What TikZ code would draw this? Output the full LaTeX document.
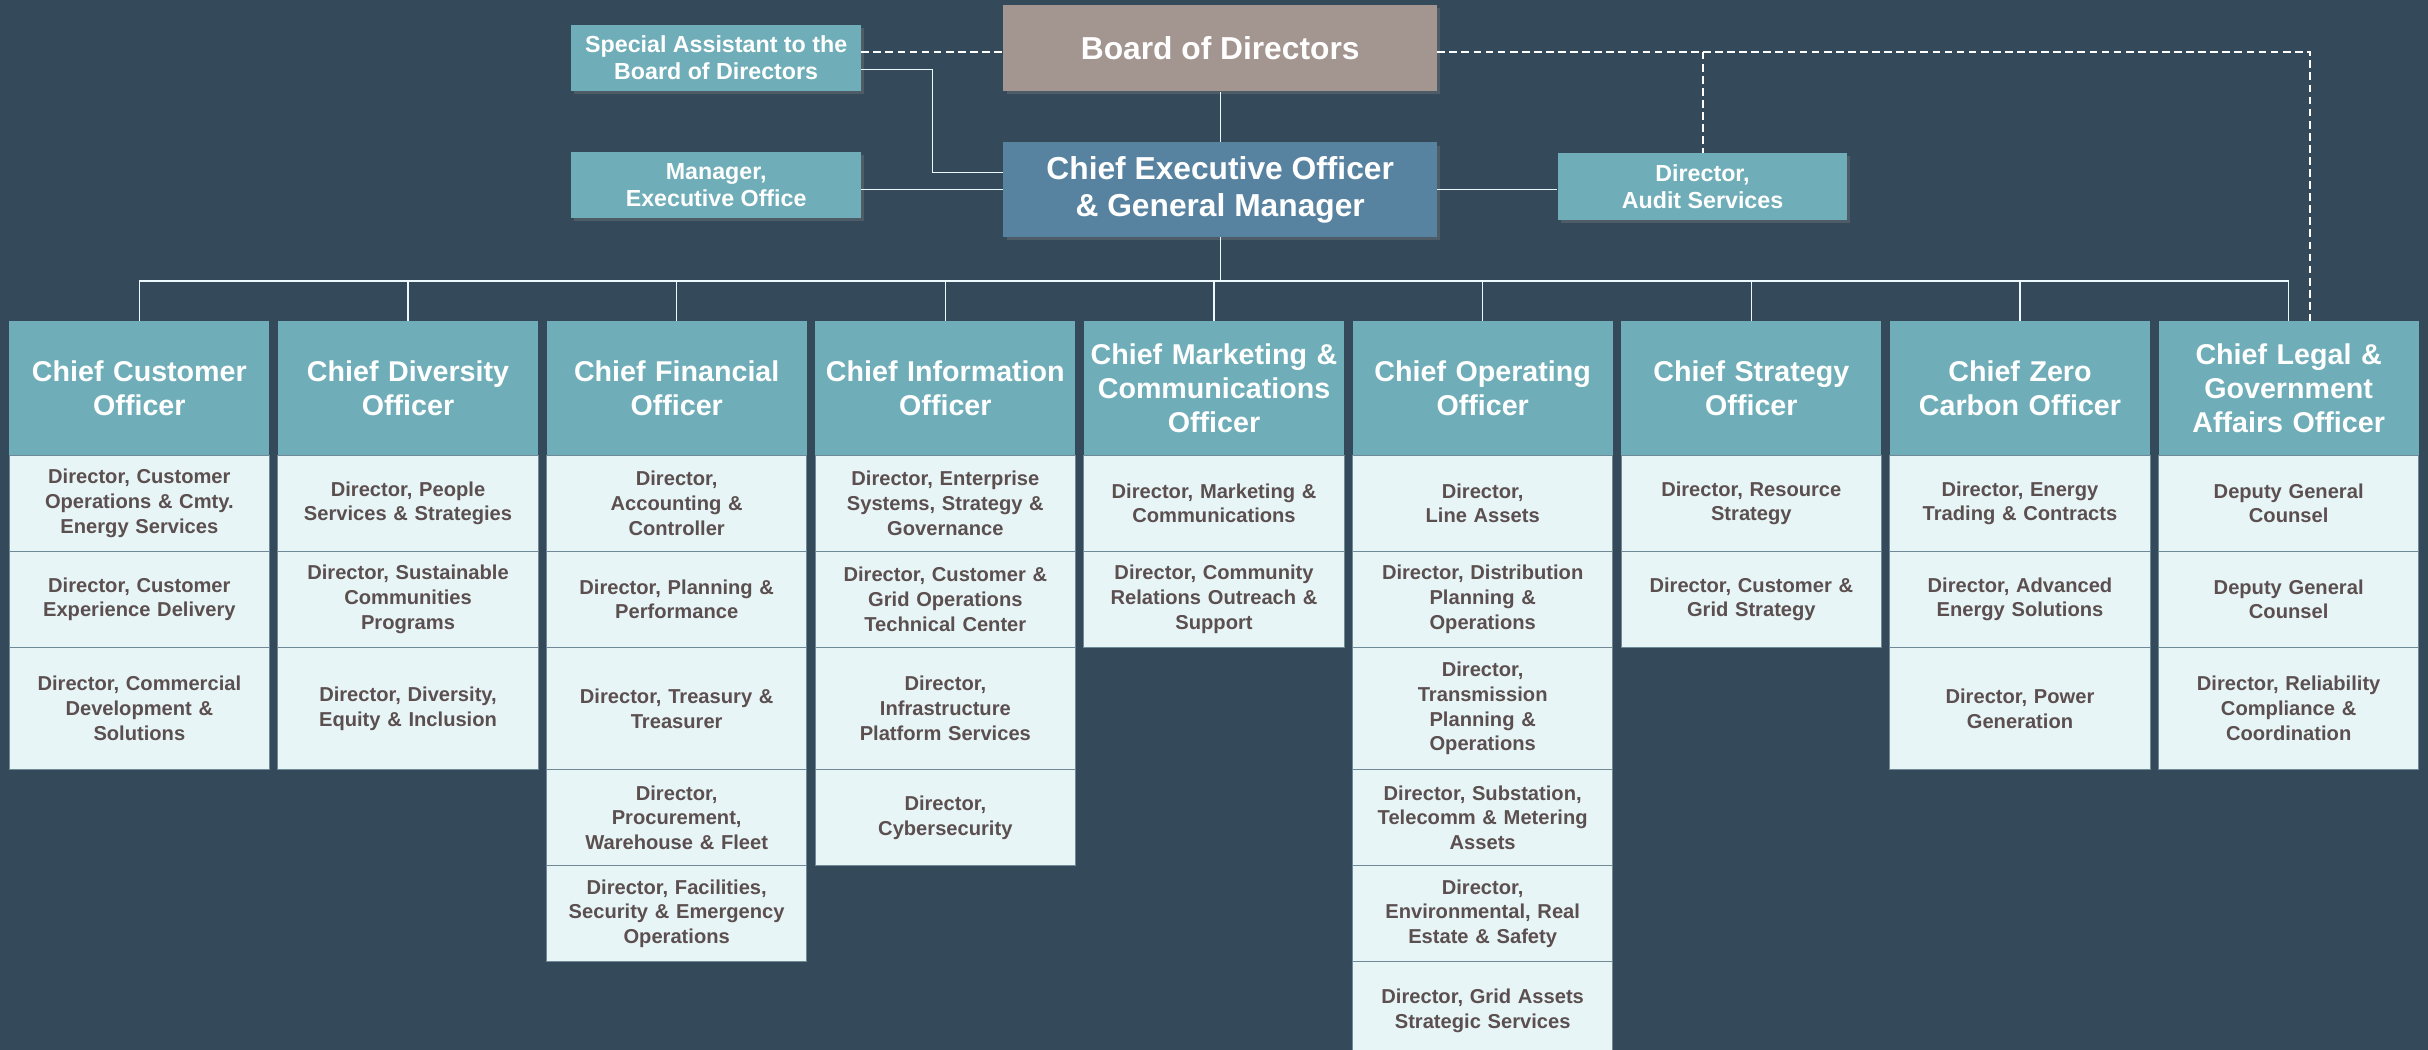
\documentclass[tikz,border=0pt]{standalone}
\usepackage{fontspec}
\setmainfont{Liberation Sans}
\usepackage{tikz}
\usetikzlibrary{positioning, shadows}

\definecolor{bgslate}{HTML}{344A5B}
\definecolor{boardgrey}{HTML}{A39590}
\definecolor{ceoblue}{HTML}{5782A0}
\definecolor{officeteal}{HTML}{6FAEB8}
\definecolor{dirfill}{HTML}{E8F5F7}
\definecolor{dirtext}{HTML}{5B4F4F}
\definecolor{dirline}{HTML}{6F8A96}

\tikzset{
  office/.style={rectangle, inner sep=0pt, align=center, text=white, fill=officeteal,
    font=\bfseries\fontsize{15}{17.5}\selectfont, minimum width=187pt, minimum height=43pt,
    drop shadow={shadow xshift=2pt, shadow yshift=-2pt, opacity=0.35}},
  exec/.style={office, font=\bfseries\fontsize{20.5}{24}\selectfont, minimum width=280pt},
  chief/.style={rectangle, inner sep=0pt, outer sep=0pt, align=center, text width=166pt,
    minimum width=168pt, minimum height=87pt, fill=officeteal, text=white,
    font=\bfseries\fontsize{18.5}{22}\selectfont},
  dir/.style={rectangle, inner sep=0pt, outer sep=0pt, align=center, text width=164pt,
    minimum width=168pt, minimum height=62pt, fill=dirfill, draw=dirline, line width=0.7pt,
    text=dirtext, font=\bfseries\fontsize{13}{16}\selectfont},
  tall/.style={dir, minimum height=79pt},
  link/.style={draw=white!92!cyan, line width=0.9pt},
  dashlink/.style={draw=white, line width=1.3pt, dash pattern=on 5pt off 2.8pt}
}

\begin{document}
\begin{tikzpicture}[x=1pt, y=-1pt]

% Background
\fill[bgslate] (0,0) rectangle (1568,678);
\useasboundingbox (0,0) rectangle (1568,678);

% Top of the chart
\node[exec, fill=boardgrey, minimum height=56pt] (board) at (788,31) {Board of Directors};
\node[exec, fill=ceoblue, minimum height=61pt] (ceo) at (788,122.5) {Chief Executive Officer\\\& General Manager};
\node[office] (spa) at (462.5,37.5) {Special Assistant to the\\Board of Directors};
\node[office] (mgr) at (462.5,119.5) {Manager,\\Executive Office};
\node[office] (audit) at (1099.5,120.5) {Director,\\Audit Services};

% Chiefs
\foreach \role [count=\i] in {{Chief Customer\\Officer}, {Chief Diversity\\Officer},
    {Chief Financial\\Officer}, {Chief Information\\Officer},
    {Chief Marketing \&\\Communications\\Officer}, {Chief Operating\\Officer},
    {Chief Strategy\\Officer}, {Chief Zero\\Carbon Officer},
    {Chief Legal \&\\Government\\Affairs Officer}}
  \node[chief] (chief\i) at ({90+173.5*(\i-1)},250.5) {\role};

% Customer
\node[dir, below=0pt of chief1] (cust1) {Director, Customer\\Operations \& Cmty.\\Energy Services};
\node[dir, below=0pt of cust1] (cust2) {Director, Customer\\Experience Delivery};
\node[tall, below=0pt of cust2] (cust3) {Director, Commercial\\Development \&\\Solutions};

% Diversity
\node[dir, below=0pt of chief2] (div1) {Director, People\\Services \& Strategies};
\node[dir, below=0pt of div1] (div2) {Director, Sustainable\\Communities\\Programs};
\node[tall, below=0pt of div2] (div3) {Director, Diversity,\\Equity \& Inclusion};

% Financial
\node[dir, below=0pt of chief3] (fin1) {Director,\\Accounting \&\\Controller};
\node[dir, below=0pt of fin1] (fin2) {Director, Planning \&\\Performance};
\node[tall, below=0pt of fin2] (fin3) {Director, Treasury \&\\Treasurer};
\node[dir, below=0pt of fin3] (fin4) {Director,\\Procurement,\\Warehouse \& Fleet};
\node[dir, below=0pt of fin4] (fin5) {Director, Facilities,\\Security \& Emergency\\Operations};

% Information
\node[dir, below=0pt of chief4] (info1) {Director, Enterprise\\Systems, Strategy \&\\Governance};
\node[dir, below=0pt of info1] (info2) {Director, Customer \&\\Grid Operations\\Technical Center};
\node[tall, below=0pt of info2] (info3) {Director,\\Infrastructure\\Platform Services};
\node[dir, below=0pt of info3] (info4) {Director,\\Cybersecurity};

% Marketing
\node[dir, below=0pt of chief5] (mkt1) {Director, Marketing \&\\Communications};
\node[dir, below=0pt of mkt1] (mkt2) {Director, Community\\Relations Outreach \&\\Support};

% Operating
\node[dir, below=0pt of chief6] (ops1) {Director,\\Line Assets};
\node[dir, below=0pt of ops1] (ops2) {Director, Distribution\\Planning \&\\Operations};
\node[tall, below=0pt of ops2] (ops3) {Director,\\Transmission\\Planning \&\\Operations};
\node[dir, below=0pt of ops3] (ops4) {Director, Substation,\\Telecomm \& Metering\\Assets};
\node[dir, below=0pt of ops4] (ops5) {Director,\\Environmental, Real\\Estate \& Safety};
\node[dir, minimum height=64pt, below=0pt of ops5] (ops6) {Director, Grid Assets\\Strategic Services};

% Strategy
\node[dir, below=0pt of chief7] (strat1) {Director, Resource\\Strategy};
\node[dir, below=0pt of strat1] (strat2) {Director, Customer \&\\Grid Strategy};

% Zero carbon
\node[dir, below=0pt of chief8] (zero1) {Director, Energy\\Trading \& Contracts};
\node[dir, below=0pt of zero1] (zero2) {Director, Advanced\\Energy Solutions};
\node[tall, below=0pt of zero2] (zero3) {Director, Power\\Generation};

% Legal
\node[dir, below=0pt of chief9] (legal1) {Deputy General\\Counsel};
\node[dir, below=0pt of legal1] (legal2) {Deputy General\\Counsel};
\node[tall, below=0pt of legal2] (legal3) {Director, Reliability\\Compliance \&\\Coordination};

% Solid reporting lines
\coordinate (bus) at (788,181.5);
\draw[link] (board) -- (ceo);
\draw[link] (ceo) -- (bus);
\draw[link] (bus -| chief1.north) -- (bus -| chief9.north);
\foreach \i in {1,...,9}
  \draw[link] (bus -| chief\i.north) -- (chief\i.north);
\draw[link] ([yshift=-7.5pt]spa.east) -- ++(46,0) |- ([yshift=11pt]ceo.west);
\draw[link] (ceo.west -| mgr.east) -- (ceo.west);
\draw[link] (ceo.east) -- (ceo.east -| audit.west);

% Dashed lines
\draw[dashlink] ([yshift=-2.4pt]board.west -| spa.east) -- ([yshift=-2.4pt]board.west);
\draw[dashlink] ([yshift=-2.4pt]board.east) -| ([xshift=14pt]chief9.north);
\draw[dashlink] ([yshift=-2.4pt]board.east -| audit.north) -- (audit.north);

\end{tikzpicture}
\end{document}
